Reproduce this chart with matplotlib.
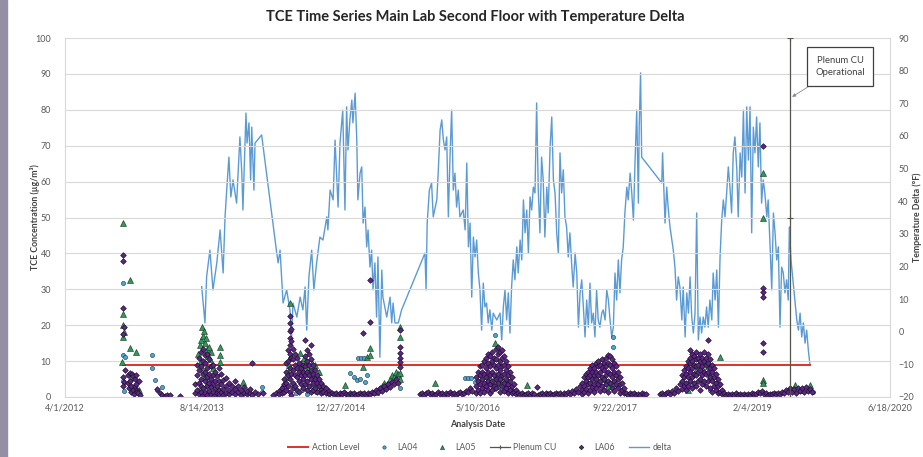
import matplotlib
matplotlib.use('Agg')
import matplotlib.pyplot as plt
import pandas as pd
from matplotlib.patches import Rectangle

plt.rcParams['font.family'] = ['Lato', 'DejaVu Sans']

# ---------------- data (x = days after 4/1/2012) ----------------
START = '2012-04-01'
AXIS_DAYS = 3000          # 6/18/2020
TICK_STEP = 500

title = "TCE Time Series Main Lab Second Floor with Temperature Delta"
xlabel = "Analysis Date"
ylabel_left = "TCE Concentration (µg/m³)"
ylabel_right = "Temperature Delta (°F)"

action_level_days = [211, 2709]
action_level_vals = [8.8, 8.8]

plenum_days = [2636, 2636, 2636]
plenum_vals = [0, 50, 100]

delta = [
 (497,13.8),(509,2.7),(515,16.9),(527,25.0),(538,12.8),(552,21.1),(564,31.2),(575,18.0),(582,35.2),(588,43.4),
 (596,53.5),(603,41.3),(611,46.5),(624,39.4),(636,59.7),(643,48.6),(647,37.3),(658,67.0),(662,57.8),(669,64.0),
 (675,46.5),(679,62.7),(687,43.4),(691,57.8),(715,60.3),
 (770,24.1),(775,21.1),(782,25.0),(793,8.8),(806,12.8),(818,6.7),(824,-1.6),(829,8.8),(843,4.5),(855,10.6),
 (865,6.7),(873,13.7),(879,0.5),(887,16.8),(897,25.0),(905,12.8),(915,21.1),(927,29.0),(938,28.1),(952,35.2),
 (956,31.2),(964,43.4),(975,40.4),(982,58.7),(988,47.4),(993,38.2),(1000,57.8),(1010,67.9),(1018,37.3),(1024,68.9),
 (1029,55.7),(1036,64.9),(1043,71.0),(1047,64.0),(1055,73.1),(1061,58.7),(1065,40.4),(1073,48.6),(1079,50.5),(1084,33.3),
 (1091,38.2),(1097,26.0),(1102,31.2),(1109,19.8),(1115,25.0),(1120,12.8),(1127,21.1),(1133,4.5),(1138,22.9),(1145,-7.8),
 (1152,18.9),(1156,10.6),(1170,4.5),(1182,10.6),(1188,2.7),(1193,8.8),(1200,2.7),(1212,2.7),(1224,6.7),
 (1309,24.1),(1313,12.8),(1317,33.3),(1325,43.4),(1333,45.6),(1339,35.2),(1352,40.4),(1357,48.6),(1364,61.8),(1370,64.9),
 (1376,58.7),(1382,55.7),(1388,59.7),(1394,35.2),(1400,53.5),(1406,67.9),(1412,43.4),(1418,48.6),(1424,38.2),(1430,43.4),
 (1436,35.2),(1443,36.4),(1448,37.3),(1455,31.2),(1461,51.7),(1467,26.0),(1473,33.3),(1479,10.6),(1485,29.0),(1491,22.9),
 (1497,28.1),(1503,18.0),(1509,12.8),(1515,0.5),(1521,14.9),(1527,7.6),(1533,8.8),(1539,2.7),(1545,6.7),(1552,0.5),
 (1557,5.7),(1570,3.6),(1582,5.7),(1588,-2.5),(1594,7.6),(1600,12.8),(1606,3.6),(1612,11.9),(1618,-0.4),(1624,13.7),
 (1630,22.0),(1636,15.9),(1643,26.0),(1648,18.0),(1655,28.1),(1661,22.0),(1667,40.4),(1673,30.3),(1679,37.3),(1685,24.1),
 (1691,41.3),(1697,37.3),(1703,44.3),(1709,42.5),(1715,70.1),(1721,43.4),(1727,30.3),(1733,53.5),(1739,46.5),(1745,29.0),
 (1752,44.3),(1757,36.4),(1764,56.6),(1770,65.8),(1776,46.5),(1782,42.5),(1788,30.3),(1794,24.1),(1800,54.8),(1806,42.5),
 (1812,49.6),(1818,35.2),(1824,32.1),(1830,22.9),(1836,30.3),(1843,19.8),(1848,13.7),(1855,24.1),(1861,18.0),(1867,1.4),
 (1873,11.9),(1879,15.9),(1885,7.6),(1891,-1.6),(1897,9.7),(1903,1.4),(1909,14.9),(1915,2.7),(1921,5.7),(1927,-1.6),
 (1933,12.8),(1939,3.6),(1945,1.4),(1952,5.7),(1957,6.7),(1964,3.6),(1970,12.8),(1976,9.7),(1982,3.6),(1988,-1.6),
 (1994,1.4),(2000,18.0),(2006,9.7),(2012,22.0),(2018,11.9),(2024,22.0),(2030,26.0),(2036,36.4),(2043,44.3),(2048,40.4),
 (2055,48.6),(2061,42.5),(2067,34.2),(2073,52.6),(2079,67.9),(2085,39.4),(2088,62.7),(2093,79.3),(2097,53.5),
 (2170,45.6),(2173,54.8),(2182,33.3),(2188,44.3),(2194,37.3),(2200,32.1),(2212,25.0),(2218,19.8),(2224,9.7),(2230,16.8),
 (2236,13.7),(2243,3.6),(2248,13.7),(2255,-1.6),(2261,11.9),(2267,5.7),(2273,16.8),(2279,4.5),(2285,-0.4),(2291,5.7),
 (2297,36.4),(2303,-2.5),(2309,4.5),(2315,-0.4),(2321,4.5),(2327,1.4),(2333,7.6),(2339,1.4),(2345,9.7),(2352,3.6),
 (2357,18.0),(2364,9.7),(2370,18.9),(2376,1.4),(2382,22.9),(2388,34.2),(2394,40.4),(2400,35.2),(2406,42.5),(2412,50.5),
 (2418,44.3),(2424,36.4),(2430,54.8),(2436,59.7),(2443,49.6),(2448,35.2),(2455,54.8),(2461,47.4),(2467,67.9),(2473,42.5),
 (2479,68.9),(2485,52.6),(2491,68.9),(2497,30.3),(2503,62.7),(2509,54.8),(2515,65.8),(2521,50.5),(2527,64.0),(2533,39.4),
 (2539,46.5),(2545,42.5),(2552,35.2),(2557,40.4),(2564,26.0),(2570,12.8),(2576,36.4),(2582,30.3),(2588,22.0),(2594,26.0),
 (2600,1.4),(2606,19.8),(2612,18.0),(2618,11.9),(2624,15.9),(2630,9.7),(2634,32.1),(2640,22.0),(2648,14.9),(2655,8.8),
 (2661,3.6),(2667,0.5),(2673,5.7),(2679,-1.6),(2685,2.7),(2691,-3.5),(2697,0.5),(2703,-5.6),(2709,-10.2),
]

LA06 = [
 (211,39.5),(211,37.8),(211,24.8),(213,19.5),(210,17.5),(211,5.5),(213,4.2),(210,3.0),(218,7.5),
 (229,4.0),(229,6.0),(232,2.5),(236,6.8),(236,4.5),(240,1.5),(240,3.2),(243,6.5),(247,5.8),(247,2.0),
 (251,0.8),(255,3.0),(255,5.0),(258,6.0),(258,3.5),(262,2.0),(262,1.5),(266,1.0),(269,4.5),(273,0.5),
 (335,2.2),(345,1.0),(353,0.6),(364,0.4),(370,0.5),(382,0.5),(418,0.3),
 (473,1.0),(473,3.5),(480,2.0),(480,6.0),(480,9.0),(487,0.8),(487,4.0),(487,11.0),(487,7.5),
 (495,1.5),(495,5.0),(495,8.5),(495,12.5),(495,3.0),(502,0.6),(502,2.5),(502,6.5),(502,10.0),(502,13.5),
 (509,1.2),(509,4.5),(509,7.0),(509,9.5),(509,11.8),(516,0.5),(516,3.0),(516,5.5),(516,8.0),(516,12.0),
 (524,1.8),(524,4.0),(524,6.5),(524,10.5),(531,0.7),(531,2.8),(531,5.0),(531,8.5),
 (538,1.5),(538,3.8),(538,6.0),(538,9.0),(545,0.6),(545,2.5),(545,4.5),(545,7.0),
 (553,1.2),(553,3.2),(553,5.8),(560,0.8),(560,2.0),(560,4.5),(560,8.0),(567,1.5),(567,3.5),(567,6.5),
 (575,0.6),(575,2.2),(575,4.8),(585,1.2),(585,3.0),(585,5.2),(596,0.7),(596,2.0),(596,4.0),
 (607,1.4),(607,3.2),(618,0.8),(618,2.3),(618,4.5),(629,1.5),(629,3.0),(640,0.6),(640,2.0),
 (651,1.2),(651,2.8),(662,0.8),(662,1.8),(673,1.0),(673,2.2),(680,9.4),(680,0.6),(691,1.5),(702,0.8),(720,1.0),
 (756,0.6),(767,1.0),(778,1.8),(778,0.8),(789,2.5),(789,1.2),(796,3.5),(796,5.0),(796,1.5),
 (804,4.0),(804,7.0),(804,2.0),(804,9.5),(811,6.0),(811,10.0),(811,13.0),(811,3.0),
 (818,22.6),(818,20.5),(818,18.5),(818,16.5),(818,14.5),(818,12.0),(818,8.0),(818,5.0),(818,1.5),
 (822,19.0),(822,15.5),(822,11.0),(822,6.5),(822,0.5),(829,13.5),(829,10.5),(829,7.5),(829,4.0),(829,2.5),
 (836,12.0),(836,9.0),(836,6.0),(836,3.0),(844,11.0),(844,8.0),(844,5.5),(844,2.0),
 (851,9.5),(851,7.0),(851,4.5),(851,1.5),(858,8.0),(858,6.0),(858,3.5),(865,9.0),(865,7.0),(865,5.0),(865,2.5),
 (873,15.9),(873,11.5),(873,8.5),(873,6.0),(873,3.5),(880,13.0),(880,10.0),(880,7.0),(880,4.5),(880,2.0),
 (887,12.0),(887,9.0),(887,6.0),(887,3.0),(895,14.5),(895,10.5),(895,7.5),(895,5.0),(895,1.5),
 (902,9.0),(902,6.5),(902,4.0),(902,2.0),(909,7.5),(909,5.0),(909,2.5),(916,6.0),(916,4.0),(916,1.5),
 (924,5.0),(924,3.0),(931,4.0),(931,2.0),(931,1.0),(938,3.0),(938,1.5),(949,2.5),(949,1.0),(960,1.8),(960,0.8),
 (971,1.2),(978,0.8),(985,1.0),(993,0.6),(1000,1.1),(1007,0.7),(1015,1.3),(1022,0.9),(1029,0.6),(1036,1.0),
 (1044,0.7),(1051,1.2),(1058,0.5),(1065,0.9),(1073,1.1),(1080,0.7),(1087,1.0),(1095,0.6),(1102,1.2),(1109,0.9),
 (1116,1.5),(1124,1.0),(1131,2.0),(1138,1.3),(1145,2.5),(1153,1.8),(1160,3.0),(1167,2.2),(1175,3.5),(1182,2.8),
 (1189,4.2),(1196,3.5),(1204,5.0),(1211,4.0),
 (1084,17.7),(1109,21.0),(1109,32.6),
 (1218,18.7),(1218,14.0),(1218,12.3),(1218,11.0),(1218,9.8),(1218,8.4),
 (1291,0.8),(1298,1.2),(1305,0.6),(1313,1.0),(1320,1.4),(1327,0.7),(1335,1.1),(1342,0.5),(1349,0.9),(1356,1.3),
 (1364,0.7),(1371,1.0),(1378,0.6),(1385,1.2),(1393,0.8),(1400,1.5),(1407,0.9),(1415,1.2),(1422,0.6),(1429,1.0),
 (1436,1.4),(1444,0.8),(1451,1.1),(1458,1.8),(1465,1.3),(1473,2.5),(1480,1.8),
 (1495,3.0),(1495,5.5),(1495,1.2),(1502,4.5),(1502,7.0),(1502,2.0),(1509,6.0),(1509,8.5),(1509,3.5),(1509,1.0),
 (1516,5.0),(1516,9.0),(1516,2.5),(1516,7.0),(1524,6.5),(1524,10.0),(1524,4.0),(1524,1.5),
 (1531,8.0),(1531,11.0),(1531,5.5),(1531,3.0),(1538,7.0),(1538,9.5),(1538,4.5),(1538,2.0),(1538,12.0),
 (1545,8.5),(1545,11.5),(1545,6.0),(1545,3.5),(1545,1.2),(1553,10.0),(1553,12.5),(1553,7.0),(1553,4.5),(1553,2.0),
 (1560,9.0),(1560,11.0),(1560,6.0),(1560,3.0),(1567,13.5),(1567,10.5),(1567,8.0),(1567,5.0),(1567,2.5),
 (1575,14.0),(1575,12.0),(1575,9.0),(1575,6.5),(1575,4.0),(1582,12.5),(1582,10.0),(1582,7.5),(1582,5.0),(1582,1.5),
 (1589,13.0),(1589,11.0),(1589,8.5),(1589,6.0),(1589,3.0),(1596,11.5),(1596,9.0),(1596,6.5),(1596,4.0),(1596,1.8),
 (1604,10.0),(1604,7.5),(1604,5.0),(1604,2.5),(1611,8.5),(1611,6.0),(1611,3.5),(1611,1.2),
 (1618,7.0),(1618,4.5),(1618,2.0),(1625,5.5),(1625,3.0),(1625,1.0),(1633,3.5),(1633,1.5),(1640,2.0),(1640,0.8),
 (1647,1.2),(1655,0.7),(1662,1.0),(1669,0.5),(1677,0.9),(1684,1.2),(1691,0.6),(1698,1.0),(1706,0.7),(1716,2.8),
 (1720,0.6),(1728,0.9),(1735,1.2),(1742,0.6),(1749,1.0),(1757,0.7),(1764,1.1),(1771,0.5),(1778,0.9),(1786,1.2),
 (1793,0.7),(1800,1.0),(1807,0.6),(1815,1.1),(1822,0.8),(1829,1.3),(1837,0.9),(1844,1.6),(1851,1.2),(1858,2.2),
 (1866,1.5),(1873,3.0),
 (1880,2.0),(1880,4.0),(1880,0.8),(1887,3.0),(1887,5.5),(1887,1.5),(1895,4.5),(1895,6.5),(1895,2.2),
 (1902,3.5),(1902,7.0),(1902,5.5),(1902,1.0),(1909,6.0),(1909,8.0),(1909,4.0),(1909,2.0),
 (1916,7.0),(1916,9.0),(1916,5.0),(1916,2.8),(1924,8.0),(1924,6.0),(1924,3.5),(1924,1.5),
 (1931,9.5),(1931,7.0),(1931,5.0),(1931,2.5),(1938,8.5),(1938,10.0),(1938,6.0),(1938,3.5),
 (1945,9.0),(1945,7.0),(1945,4.5),(1945,1.8),(1953,10.5),(1953,8.0),(1953,5.5),(1953,3.0),
 (1960,9.5),(1960,7.5),(1960,5.0),(1960,2.0),(1967,11.0),(1967,8.5),(1967,6.0),(1967,3.5),
 (1975,11.7),(1975,9.5),(1975,7.0),(1975,4.5),(1975,1.5),(1982,11.5),(1982,9.0),(1982,6.5),(1982,4.0),
 (1989,10.5),(1989,8.0),(1989,5.5),(1989,2.5),(1996,9.5),(1996,7.0),(1996,4.5),(1996,1.8),
 (2004,8.5),(2004,6.0),(2004,3.5),(2011,7.0),(2011,5.0),(2011,2.5),(2018,5.5),(2018,3.5),(2018,1.2),
 (2025,4.0),(2025,2.0),(2033,2.5),(2033,1.0),
 (2040,1.0),(2047,0.6),(2055,1.1),(2062,0.7),(2069,1.0),(2076,0.5),(2084,0.9),(2091,0.6),(2098,1.0),(2105,0.7),(2113,0.8),
 (2164,0.8),(2171,1.2),(2178,0.6),(2186,1.0),(2193,1.5),(2200,0.9),(2207,1.8),(2215,1.2),(2222,2.5),(2229,1.6),
 (2236,3.5),(2244,2.2),
 (2244,4.5),(2244,6.0),(2251,5.5),(2251,7.5),(2251,3.0),(2258,6.5),(2258,8.5),(2258,4.0),(2258,2.0),
 (2266,8.0),(2266,10.0),(2266,5.5),(2266,3.0),(2273,13.0),(2273,9.5),(2273,11.0),(2273,7.0),(2273,4.5),
 (2280,12.0),(2280,10.0),(2280,8.0),(2280,5.5),(2280,2.5),(2287,11.5),(2287,9.0),(2287,6.5),(2287,4.0),
 (2295,12.5),(2295,10.5),(2295,8.5),(2295,6.0),(2295,3.0),(2302,11.0),(2302,9.0),(2302,7.0),(2302,4.5),
 (2309,12.0),(2309,10.0),(2309,7.5),(2309,5.0),(2309,2.0),(2316,11.0),(2316,8.5),(2316,6.0),(2316,3.5),
 (2324,12.5),(2324,10.0),(2324,7.0),(2324,4.5),(2331,11.0),(2331,9.0),(2331,6.5),(2331,3.0),
 (2338,15.9),(2338,12.0),(2338,9.5),(2338,7.0),(2338,4.5),(2345,10.5),(2345,8.0),(2345,5.5),(2345,2.5),
 (2353,9.0),(2353,7.0),(2353,4.5),(2353,1.5),(2360,8.0),(2360,5.5),(2360,3.0),(2367,6.5),(2367,4.0),(2367,2.0),
 (2375,5.0),(2375,3.0),(2375,1.0),(2382,3.5),(2382,1.5),(2389,2.0),(2389,0.8),
 (2396,1.0),(2404,0.6),(2411,0.9),(2418,0.5),(2426,0.8),(2433,0.6),(2440,1.0),(2448,0.5),(2455,0.8),(2462,0.6),
 (2469,0.9),(2477,0.5),(2484,0.8),(2491,0.6),(2499,1.0),(2506,0.7),(2513,0.9),(2520,1.4),(2528,1.0),(2535,1.6),
 (2542,0.8),(2549,1.1),(2557,0.6),(2564,0.9),(2571,0.7),(2578,1.0),(2586,0.8),(2593,1.2),(2600,0.9),(2608,1.5),
 (2615,1.0),(2622,2.0),(2629,1.3),(2637,2.5),(2644,1.5),(2651,2.2),(2658,1.2),(2666,2.6),(2673,1.8),(2680,2.4),
 (2688,1.4),(2695,2.8),(2702,1.7),(2709,2.3),(2716,1.5),
 (2538,70.0),(2538,30.4),(2538,29.2),(2538,27.9),(2538,15.0),(2538,12.5),
]

LA05 = [
 (211,48.4),(236,32.6),(211,23.0),(211,20.0),(213,18.0),(211,16.8),(236,13.6),(258,12.5),(209,9.8),(240,5.5),(269,2.0),
 (484,12.0),(491,14.5),(495,16.0),(498,19.5),(502,17.0),(506,18.5),(509,15.0),(513,16.5),(516,13.5),(520,11.5),
 (524,14.0),(527,10.5),(531,12.5),(535,9.0),(538,8.0),(495,10.0),(502,7.5),(509,5.5),(516,3.5),
 (564,14.0),(564,11.7),(564,9.7),(647,4.2),
 (775,1.5),(786,2.5),(797,3.5),(804,5.5),(811,7.0),(818,26.2),(815,9.0),(822,11.5),
 (855,12.3),(858,9.5),(865,7.5),(869,11.0),(876,10.0),(884,8.0),(891,6.5),(898,9.5),(905,5.5),(909,8.9),
 (916,4.0),(924,7.0),(931,3.0),
 (1018,3.3),(1098,11.1),(1109,13.6),(1109,11.7),(1084,8.4),
 (1131,1.5),(1142,2.2),(1153,3.0),(1160,4.0),(1171,3.5),(1182,5.0),(1189,6.0),(1196,5.5),(1204,7.0),(1211,6.5),
 (1218,19.6),(1218,16.8),(1218,6.7),(1218,5.0),
 (1345,3.9),(1680,3.3),
 (1531,3.5),(1545,5.0),(1553,2.5),(1560,4.5),(1567,6.0),(1575,3.0),(1564,15.0),(1589,5.0),(1596,2.5),(1604,4.0),
 (1611,2.0),(1618,3.0),
 (1916,3.0),(1931,4.5),(1945,3.5),(1960,5.0),(1975,3.0),(1989,4.0),
 (2295,7.5),(2302,9.0),(2316,8.0),(2324,10.0),(2338,8.5),(2345,6.0),(2382,11.1),(2266,2.0),
 (2538,62.4),(2538,50.0),(2538,4.7),(2538,3.9),
 (2655,3.3),(2709,3.3),(2680,2.0),
]

LA04 = [
 (211,31.7),(211,11.7),(218,11.2),(210,4.5),(316,11.7),(318,8.0),(327,4.7),(353,2.8),(335,2.0),(213,1.8),
 (487,2.0),(498,1.0),(509,2.5),(520,1.5),(531,3.5),(545,1.0),(560,2.0),(575,1.0),(716,2.8),(716,1.5),(600,1.5),
 (818,11.0),(825,3.5),(840,1.0),(862,2.0),(880,0.8),(895,3.0),(913,1.5),
 (1065,10.9),(1076,10.9),(1087,10.9),(1036,6.7),(1051,5.5),(1062,4.8),(1073,5.0),(1091,4.2),(1098,6.0),(1005,1.0),
 (1218,2.5),
 (1455,5.3),(1466,5.3),(1476,5.3),(1491,4.2),
 (1520,2.5),(1538,5.5),(1553,3.5),(1564,17.3),(1571,5.5),(1589,4.0),(1600,2.8),(1611,4.5),(1625,2.0),
 (1993,16.7),(1993,14.0),(1938,3.0),(1967,4.0),(2000,3.0),
 (2371,3.9),(2320,4.0),(2280,3.5),(2345,2.0),
 (2538,4.0),(2720,1.5),
]

annotation_text = "Plenum CU\nOperational"

# ---------------- helpers ----------------
start = pd.Timestamp(START)

def to_dates(days):
    return start + pd.to_timedelta(list(days), unit='D')

def split(pairs):
    d, v = zip(*pairs)
    return to_dates(d), list(v)

# ---------------- figure ----------------
fig = plt.figure(figsize=(9.23, 4.57), dpi=100)
fig.patches.append(Rectangle((0, 0), 7 / 923, 1, transform=fig.transFigure,
                             color='#958fa6', zorder=0))
ax = fig.add_axes([65 / 923, 1 - 397 / 457, 825 / 923, 359 / 457])
ax2 = ax.twinx()
ax.set_zorder(ax2.get_zorder() + 1)
ax.patch.set_visible(False)

grid_c = '#d9d9d9'
txt_c = '#595959'

# delta on right axis
dd, dv = split(delta)
h_delta, = ax2.plot(dd, dv, color='#5b9bd5', lw=1.0, label='delta')

# action level
h_act, = ax.plot(to_dates(action_level_days), action_level_vals, color='#d9332c', lw=1.4,
                 label='Action Level')

# scatter series
d4, v4 = split(LA04)
d5, v5 = split(LA05)
d6, v6 = split(LA06)
h_la04, = ax.plot(d4, v4, ls='none', marker='o', ms=3.0, mfc='#4da6cf', mec='#1e3344', mew=0.4,
                  label='LA04')
h_la05, = ax.plot(d5, v5, ls='none', marker='^', ms=3.7, mfc='#2f9a5c', mec='#16301f', mew=0.4,
                  label='LA05')
h_la06, = ax.plot(d6, v6, ls='none', marker='D', ms=2.9, mfc='#5e2688', mec='#161022', mew=0.45,
                  label='LA06')

# plenum CU
h_plen, = ax.plot(to_dates(plenum_days), plenum_vals, color='#55554a', lw=0.9, marker='+',
                  ms=4, mew=0.8, label='Plenum CU')

# axes ranges / ticks
ax.set_xlim(to_dates([0])[0], to_dates([AXIS_DAYS])[0])
ax.set_ylim(0, 100)
ax.set_yticks(range(0, 101, 10))
ax2.set_ylim(-20, 90)
ax2.set_yticks(range(-20, 91, 10))

tick_days = list(range(0, AXIS_DAYS + 1, TICK_STEP))
tick_dates = to_dates(tick_days)
ax.set_xticks(tick_dates)
ax.set_xticklabels([f"{t.month}/{t.day}/{t.year}" for t in tick_dates])

ax.grid(axis='y', color=grid_c, lw=0.8)
ax.grid(axis='x', visible=False)
for a in (ax, ax2):
    for s in a.spines.values():
        s.set_visible(False)
ax.spines['bottom'].set_visible(True)
ax.spines['bottom'].set_color(grid_c)
ax.spines['left'].set_visible(True)
ax.spines['left'].set_color(grid_c)
ax2.spines['right'].set_visible(True)
ax2.spines['right'].set_color(grid_c)

ax.tick_params(axis='both', length=0, labelsize=6.5, colors=txt_c)
ax.tick_params(axis='y', pad=10)
ax.tick_params(axis='x', pad=5)
ax2.tick_params(axis='y', length=0, labelsize=6.5, colors=txt_c, pad=6)

ax.set_xlabel(xlabel, fontsize=6.5, fontweight='bold', color='#404040', labelpad=5)
ax.set_ylabel(ylabel_left, fontsize=6.3, fontweight='bold', color='#404040')
ax2.set_ylabel(ylabel_right, fontsize=6.3, fontweight='bold', color='#404040', rotation=90)
ax.yaxis.set_label_coords(-0.03, 0.5)
ax2.yaxis.set_label_coords(1.027, 0.5)

fig.text(0.515, 0.963, title, ha='center', va='center', fontsize=10.5, fontweight='bold',
         color='#262626')

# annotation
ax.annotate(annotation_text, xy=(to_dates([2644])[0], 83.6), xytext=(to_dates([2818])[0], 92.0),
            ha='center', va='center', fontsize=6.8, color='#404040', linespacing=1.5,
            bbox=dict(boxstyle='square,pad=0.9', fc='white', ec='#404040', lw=0.9),
            arrowprops=dict(arrowstyle='-|>', color='#8c8c8c', lw=0.6, mutation_scale=5,
                            shrinkA=0, shrinkB=0))

fig.legend([h_act, h_la04, h_la05, h_plen, h_la06, h_delta],
           ['Action Level', 'LA04', 'LA05', 'Plenum CU', 'LA06', 'delta'],
           loc='center', bbox_to_anchor=(0.52, 0.02), ncol=6, frameon=False, fontsize=6.3,
           labelcolor=txt_c, handlelength=2.3, columnspacing=1.6, handletextpad=0.4,
           markerscale=0.8)

fig.savefig('out.png', dpi=100)
